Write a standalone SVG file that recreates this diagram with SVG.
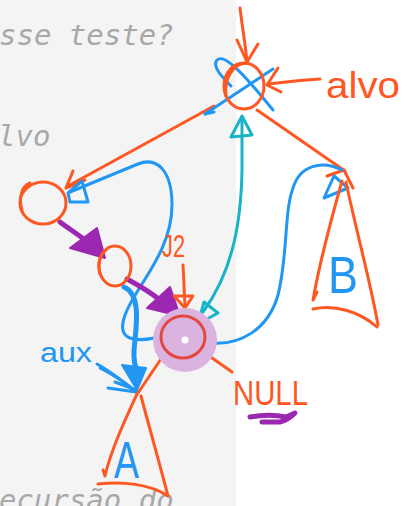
<svg xmlns="http://www.w3.org/2000/svg" width="407" height="506" viewBox="0 0 407 506">
  <style>
    .o { fill: none; stroke: #ff5722; stroke-width: 3; stroke-linecap: round; stroke-linejoin: round; }
    .b { fill: none; stroke: #2196f3; stroke-width: 3; stroke-linecap: round; stroke-linejoin: round; }
    .c { fill: none; stroke: #17b3c9; stroke-width: 3; stroke-linecap: round; stroke-linejoin: round; }
    .p { fill: none; stroke: #9c27b0; stroke-width: 5; stroke-linecap: round; stroke-linejoin: round; }
    .bg-text { font-family: "DejaVu Sans Mono", "Liberation Mono", monospace; font-style: italic; font-size: 29px; fill: #a8a8a8; }
    .hand { font-family: "Liberation Sans", Arial, sans-serif; }
  </style>

  <!-- page background: grey text column on the left, white canvas on the right -->
  <rect x="0" y="0" width="407" height="506" fill="#ffffff"/>
  <rect x="0" y="0" width="236" height="506" fill="#f4f4f4"/>
  <text class="bg-text" x="-1" y="45">sse teste?</text>
  <text class="bg-text" x="-2" y="146">lvo</text>
  <text class="bg-text" x="-1" y="510">ecursão do</text>

  <!-- connectors -->
  <g id="connectors">
    <!-- incoming pointer to the root -->
    <path class="o" d="M240,8 C242,25 245,42 247,61"/>
    <path class="o" d="M237,40 L247,62 L258,44"/>
    <!-- "alvo" pointer -->
    <path class="o" d="M320,79 C303,80 285,82 268,84"/>
    <path class="o" d="M278,68 L267,85 L281,92"/>
    <!-- root to left child -->
    <path class="o" d="M214,106 L68,186"/>
    <path class="o" d="M73,171 L66,188 L85,180"/>
    <!-- root to right subtree -->
    <path class="o" d="M257,110 L345,171"/>
    <path class="o" d="M327,176 L344,170 L353,188"/>
    <!-- cross over the root -->
    <path class="b" d="M205,114 L273,69"/>
    <path class="b" d="M205,114 L214,112"/>
    <path class="b" d="M231,86 C221,76 212,66 217,60 C224,53 242,72 273,110"/>
    <!-- cyan return path between null node and root -->
    <path class="c" d="M242,120 L242,170 C241,230 230,275 203,312"/>
    <path class="c" d="M231,137 L242,116 L252,135 Z"/>
    <path class="c" d="M204,302 L198,324 L218,313 Z"/>
    <!-- blue path from null node up to right subtree -->
    <path class="b" d="M212,343 C240,345 268,330 278,295 C288,255 284,212 293,188 C300,165 322,160 342,170"/>
    <path class="b" d="M324,198 L334,176 L348,188 Z"/>
    <!-- blue path from left child around to null node -->
    <path class="b" d="M70,192 L138,164 C158,156 172,172 172,205 C172,240 152,268 137,292 C122,316 117,333 130,338 C140,342 154,338 163,336"/>
    <path class="b" d="M82,181 L68,193 L70,202 L88,202 Z"/>
    <!-- purple traversal arrows -->
    <path class="p" d="M60,222 C68,228 76,233 85,240"/>
    <polygon fill="#9c27b0" stroke="#9c27b0" stroke-width="2" stroke-linejoin="round" points="70,248 97,228 105,258"/>
    <path class="p" d="M127,279 C138,285 150,292 160,300"/>
    <polygon fill="#9c27b0" stroke="#9c27b0" stroke-width="2" stroke-linejoin="round" points="147,308 170,287 180,316"/>
    <!-- pointer from J2 to null node -->
    <path class="o" d="M183,265 L185,306"/>
    <path class="o" d="M174,296 L185,308 L193,296 Z"/>
    <!-- aux pointer -->
    <path fill="none" stroke="#2196f3" stroke-width="5" stroke-linecap="round" d="M124,287 C140,294 137,320 135,340 C133,355 134,363 136,368"/>
    <polygon fill="#2196f3" stroke="#2196f3" stroke-width="2" stroke-linejoin="round" points="122,365 146,368 137,390"/>
    <path class="b" stroke-width="2" d="M97,364 C112,372 126,384 137,392 C124,382 108,372 100,368 M108,388 L136,392 M115,382 L136,390"/>
    <!-- null node to subtree A and to the NULL label -->
    <path class="o" d="M167,350 L138,393"/>
    <path class="o" d="M205,353 L232,372"/>
    <!-- NULL underline -->
    <path class="p" stroke-width="3" d="M250,417 C262,415 276,415 286,417 C290,416 293,414 295,413 C290,418 285,421 280,422 C274,422 268,422 262,422"/>
  </g>

  <!-- root node (alvo) -->
  <g id="node-root">
    <ellipse class="o" cx="244" cy="86" rx="20" ry="23"/>
    <path class="o" stroke-width="1.5" d="M226,96 C224,80 232,64 246,63"/>
  </g>

  <!-- left child -->
  <g id="node-left">
    <ellipse class="o" cx="43" cy="203" rx="23" ry="21"/>
    <path class="o" stroke-width="1.5" d="M22,210 C18,198 22,186 30,183"/>
  </g>

  <!-- middle node -->
  <g id="node-middle">
    <ellipse class="o" cx="115" cy="266" rx="16" ry="20"/>
    <path class="o" stroke-width="1.5" d="M100,274 C97,264 100,254 106,250"/>
  </g>

  <!-- highlighted null position -->
  <g id="node-null">
    <circle cx="185" cy="340" r="32" fill="#dab4df"/>
    <ellipse cx="183" cy="337" rx="22" ry="21" fill="none" stroke="#e3473f" stroke-width="3"/>
    <circle cx="185" cy="340" r="3.5" fill="#ffffff"/>
  </g>

  <!-- subtree A -->
  <g id="subtree-a">
    <path class="o" d="M137,394 C125,420 111,450 105,476 L103,470"/>
    <path class="o" d="M98,484 C122,481 150,484 168,496"/>
    <path class="o" d="M141,396 C150,430 160,465 168,496"/>
    <text class="hand" x="114" y="478" font-size="52" textLength="25" lengthAdjust="spacingAndGlyphs" fill="#2196f3">A</text>
  </g>

  <!-- subtree B -->
  <g id="subtree-b">
    <path class="o" d="M342,181 C331,220 320,260 313,300 L317,292"/>
    <path class="o" d="M313,309 C335,304 360,312 377,327"/>
    <path class="o" d="M346,182 C356,230 370,280 378,325"/>
    <text class="hand" x="328" y="293" font-size="52" textLength="30" lengthAdjust="spacingAndGlyphs" fill="#2196f3">B</text>
  </g>

  <!-- labels -->
  <g id="labels">
    <text class="hand" x="326" y="98" font-size="36" textLength="74" lengthAdjust="spacingAndGlyphs" fill="#ff5722">alvo</text>
    <text class="hand" x="162" y="257" font-size="32" textLength="23" lengthAdjust="spacingAndGlyphs" fill="#ff5722">J2</text>
    <text class="hand" x="40" y="362" font-size="27" textLength="52" lengthAdjust="spacingAndGlyphs" fill="#2196f3">aux</text>
    <text class="hand" x="233" y="405" font-size="35" textLength="75" lengthAdjust="spacingAndGlyphs" fill="#ff5722">NULL</text>
  </g>
</svg>
